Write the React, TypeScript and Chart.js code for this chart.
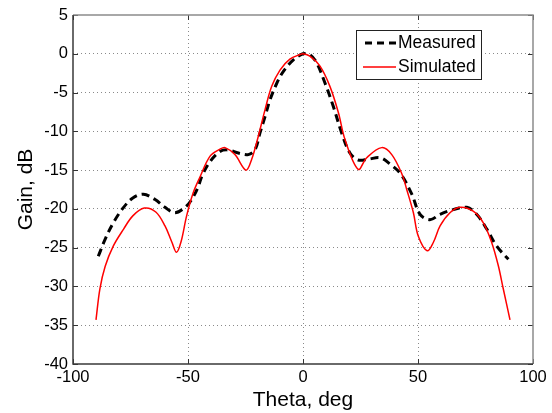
import React, { useEffect, useRef } from "react";
import { Chart, registerables } from "chart.js";

Chart.register(...registerables);

const thetaMeasured = [
  -89, -86, -82.5, -78, -74, -69.4, -64.3, -60, -55.7, -51.3, -48.4, -45.5, -44,
  -40.4, -36.1, -32.5, -28.1, -23.8, -20.9, -18.7, -16.5, -14.3, -11.4, -8.6, -4.2,
  0, 3, 6, 9.6, 13.2, 16.8, 20.4, 24, 28.4, 33.5, 37.8, 42.5, 47.3, 50.9, 55.2,
  59.6, 65.3, 71.2, 75.5, 79.9, 84.2, 89.3,
];
const gainMeasured = [
  -26.1, -23.9, -21.8, -19.8, -18.6, -18.1, -18.8, -19.8, -20.5, -19.8, -18.8, -17.1, -15.8,
  -13.9, -12.6, -12.4, -12.8, -13.0, -12.4, -10.2, -8.1, -5.9, -3.8, -2.3, -0.8,
  0, -0.1, -1.2, -3.8, -6.8, -10.2, -12.8, -13.7, -13.6, -13.4, -14.2, -15.5, -18.1, -20.7, -21.4,
  -20.7, -20.1, -19.8, -20.7, -22.6, -24.8, -26.5,
];

const thetaSimulated = [
  -90, -88.3, -86, -82.5, -78, -74, -69, -64, -60, -57, -55, -53, -50.6, -47.7, -44.8,
  -40.4, -36.1, -33.9, -29.6, -24.8, -22.3, -19.4, -16.5, -13.6, -10, -5.7, -1.3, 0,
  3, 7.4, 11.7, 15.4, 18.3, 24, 27.7, 34.2, 38.6, 43, 45.1, 48, 50.1, 54, 56.7, 59.6,
  63.9, 68.3, 74, 78.4, 82, 84.9, 87, 90,
];
const gainSimulated = [
  -34.3, -30.3, -27.4, -24.8, -22.6, -20.9, -19.9, -20.4, -22.2, -24.3, -25.6, -24.2, -20.9, -17.9, -15.9,
  -13.2, -12.3, -12.1, -13.0, -15.0, -13.6, -10.6, -7.2, -4.2, -2.1, -0.7, -0.1, 0,
  -0.3, -1.6, -4.2, -7.6, -11.1, -14.9, -13.4, -12.1, -13.0, -15.5, -17.5, -20.5, -23.5, -25.4, -24.3, -22.2,
  -20.5, -19.8, -20.3, -21.8, -24.3, -27.3, -30.2, -34.3,
];

const xTicks = [-100, -50, 0, 50, 100];
const yTicks = [5, 0, -5, -10, -15, -20, -25, -30, -35, -40];
const seriesNames = ["Measured", "Simulated"];
const xTitle = "Theta, deg";
const yTitle = "Gain, dB";

const FONT = "'Liberation Sans', Arial, sans-serif";

const framePlugin = {
  id: "frame",
  afterDraw(chart: any) {
    const { ctx, chartArea: a, scales } = chart;
    ctx.save();
    ctx.strokeStyle = "#333";
    ctx.lineWidth = 1;
    const tl = 5;
    for (const v of xTicks) {
      const x = Math.round(scales.x.getPixelForValue(v)) + 0.5;
      ctx.beginPath();
      ctx.moveTo(x, a.bottom);
      ctx.lineTo(x, a.bottom - tl);
      ctx.moveTo(x, a.top);
      ctx.lineTo(x, a.top + tl);
      ctx.stroke();
    }
    for (const v of yTicks) {
      const y = Math.round(scales.y.getPixelForValue(v)) + 0.5;
      ctx.beginPath();
      ctx.moveTo(a.left, y);
      ctx.lineTo(a.left + tl, y);
      ctx.moveTo(a.right, y);
      ctx.lineTo(a.right - tl, y);
      ctx.stroke();
    }
    ctx.lineWidth = 1.5;
    ctx.strokeStyle = "#8c8c8c";
    ctx.beginPath();
    ctx.moveTo(a.left, a.top);
    ctx.lineTo(a.right, a.top);
    ctx.lineTo(a.right, a.bottom);
    ctx.stroke();
    ctx.strokeStyle = "#3a3a3a";
    ctx.beginPath();
    ctx.moveTo(a.left, a.top);
    ctx.lineTo(a.left, a.bottom);
    ctx.lineTo(a.right, a.bottom);
    ctx.stroke();

    const bx = a.right - 177;
    const by = a.top + 15;
    const bw = 125;
    const bh = 49;
    ctx.fillStyle = "#fff";
    ctx.fillRect(bx, by, bw, bh);
    ctx.strokeStyle = "#222";
    ctx.lineWidth = 1;
    ctx.strokeRect(bx + 0.5, by + 0.5, bw, bh);
    const rows = [by + 13, by + 37];
    ctx.strokeStyle = "#000";
    ctx.lineWidth = 3;
    ctx.setLineDash([7, 5]);
    ctx.beginPath();
    ctx.moveTo(bx + 9, rows[0]);
    ctx.lineTo(bx + 40, rows[0]);
    ctx.stroke();
    ctx.setLineDash([]);
    ctx.strokeStyle = "#ff0000";
    ctx.lineWidth = 1.5;
    ctx.beginPath();
    ctx.moveTo(bx + 7, rows[1]);
    ctx.lineTo(bx + 40, rows[1]);
    ctx.stroke();
    ctx.fillStyle = "#000";
    ctx.font = `17.5px ${FONT}`;
    ctx.textBaseline = "middle";
    ctx.textAlign = "left";
    ctx.fillText(seriesNames[0], bx + 42, rows[0]);
    ctx.fillText(seriesNames[1], bx + 42, rows[1]);
    ctx.restore();
  },
};

export default function App() {
  const ref = useRef<HTMLCanvasElement | null>(null);
  useEffect(() => {
    if (!ref.current) return;
    const chart = new Chart(ref.current, {
      type: "line",
      data: {
        datasets: [
          {
            label: seriesNames[1],
            data: thetaSimulated.map((t, i) => ({ x: t, y: gainSimulated[i] })),
            borderColor: "#ff0000",
            borderWidth: 1.5,
            pointRadius: 0,
            tension: 0.35,
            fill: false,
          },
          {
            label: seriesNames[0],
            data: thetaMeasured.map((t, i) => ({ x: t, y: gainMeasured[i] })),
            borderColor: "#000000",
            borderWidth: 3,
            borderDash: [8, 5],
            pointRadius: 0,
            tension: 0.35,
            fill: false,
          },
        ],
      },
      options: {
        animation: false,
        responsive: false,
        events: [],
        layout: { padding: { top: 15, right: 19, left: 0, bottom: 0 } },
        plugins: { legend: { display: false }, tooltip: { enabled: false } },
        scales: {
          x: {
            type: "linear",
            min: -100,
            max: 100,
            afterBuildTicks: (s: any) => {
              s.ticks = xTicks.map((v) => ({ value: v }));
            },
            afterFit: (s: any) => {
              s.height = 49;
            },
            grid: {
              drawTicks: false,
              color: (c: any) =>
                c.tick && (c.tick.value === -100 || c.tick.value === 100) ? "rgba(0,0,0,0)" : "#8a8a8a",
              lineWidth: 1,
            },
            border: { display: false, dash: [1, 3] },
            ticks: {
              color: "#000",
              font: { family: FONT, size: 16.5 },
              padding: 4,
              maxRotation: 0,
              autoSkip: false,
            },
            title: {
              display: true,
              text: xTitle,
              color: "#000",
              font: { family: FONT, size: 21 },
              padding: { top: 0, bottom: 0 },
            },
          },
          y: {
            type: "linear",
            min: -40,
            max: 5,
            afterBuildTicks: (s: any) => {
              s.ticks = yTicks.map((v) => ({ value: v }));
            },
            afterFit: (s: any) => {
              s.width = 73;
            },
            grid: {
              drawTicks: false,
              color: (c: any) =>
                c.tick && (c.tick.value === -40 || c.tick.value === 5) ? "rgba(0,0,0,0)" : "#8a8a8a",
              lineWidth: 1,
            },
            border: { display: false, dash: [1, 3] },
            ticks: {
              color: "#000",
              font: { family: FONT, size: 16.5 },
              padding: 5,
              autoSkip: false,
            },
            title: {
              display: true,
              text: yTitle,
              color: "#000",
              font: { family: FONT, size: 21 },
              padding: { top: 14, bottom: 0 },
            },
          },
        },
      },
      plugins: [framePlugin],
    } as any);
    return () => chart.destroy();
  }, []);
  return (
    <div style={{ position: "absolute", left: 0, top: 0, width: 552, height: 413, background: "#fff" }}>
      <canvas ref={ref} width={552} height={413} />
    </div>
  );
}
